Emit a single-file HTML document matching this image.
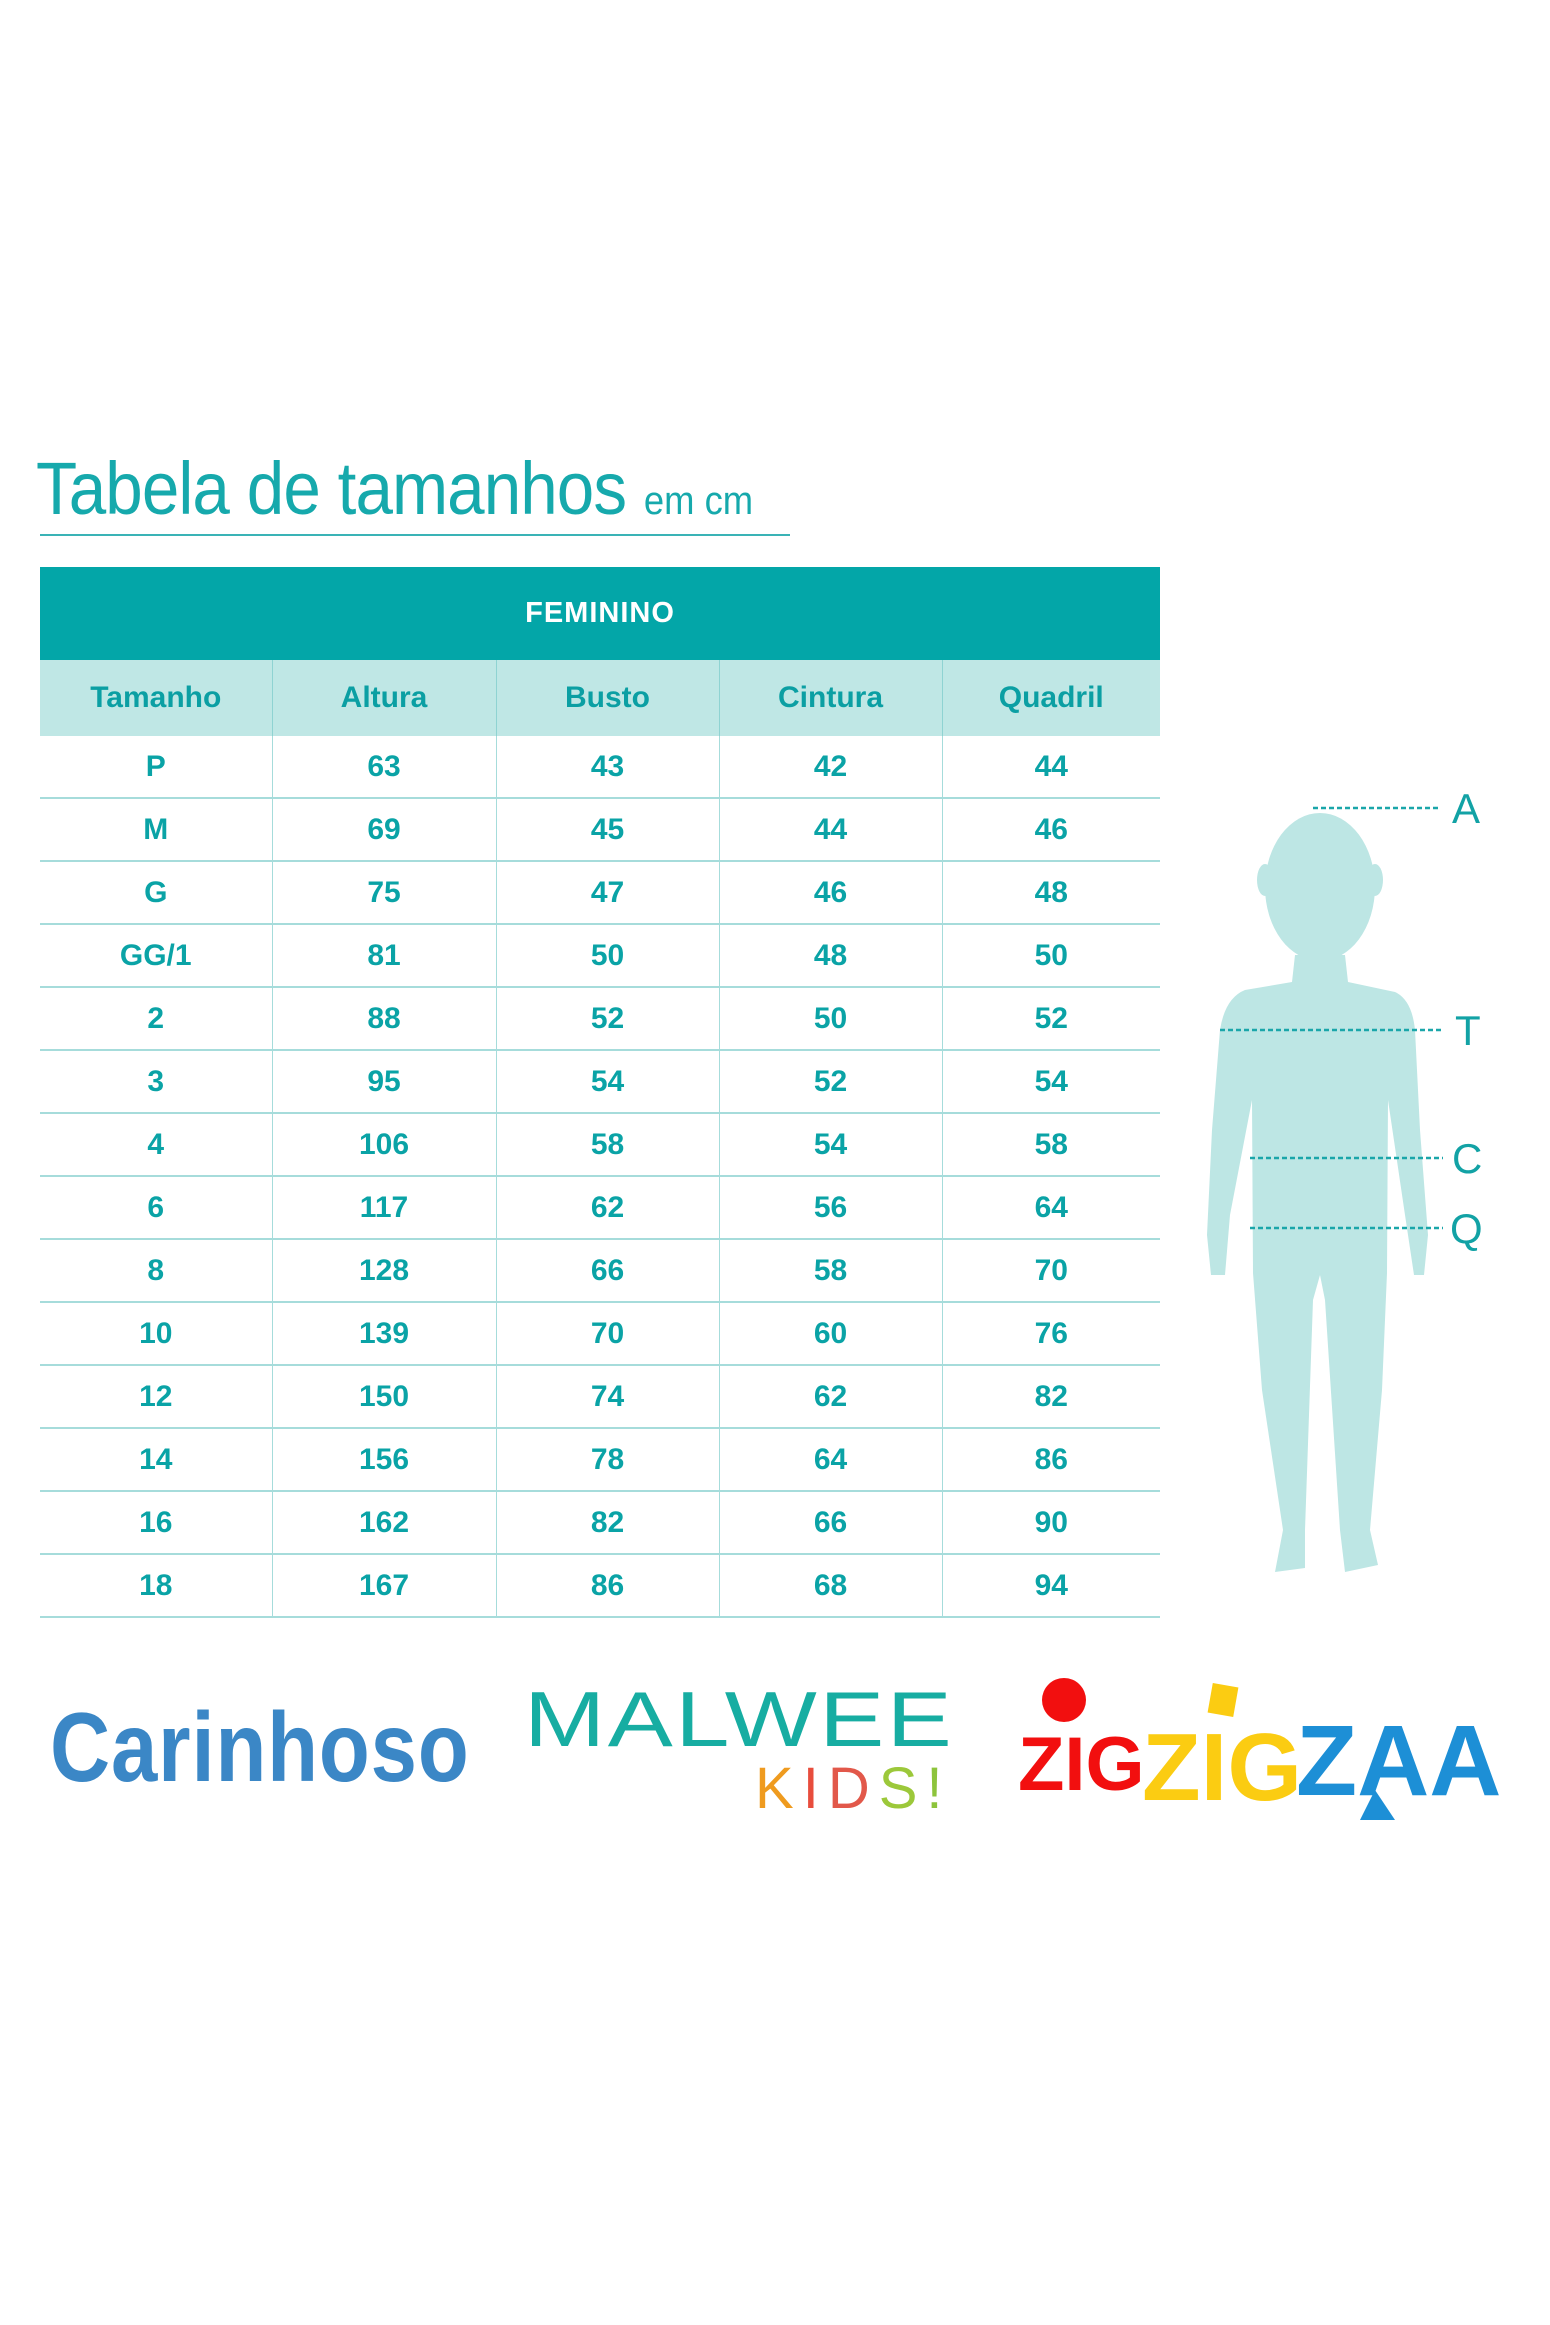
<!DOCTYPE html>
<html><head><meta charset="utf-8">
<style>
html,body{margin:0;padding:0;background:#fff;}
body{width:1550px;height:2325px;position:relative;overflow:hidden;font-family:"Liberation Sans Narrow","Liberation Sans",sans-serif;color:#0aa3a6;}
.title{position:absolute;left:36px;top:452px;font-size:74px;color:#16a9ac;letter-spacing:-1px;line-height:1;transform:scaleX(0.91);transform-origin:left;}
.title small{font-size:40px;letter-spacing:0;}
.uline{position:absolute;left:40px;top:534px;width:750px;height:2px;background:#3ab3b6;}
table{position:absolute;left:40px;top:567px;width:1120px;border-collapse:collapse;table-layout:fixed;}
td,th{text-align:center;font-weight:bold;font-size:30px;padding:0;}
.h1 th{background:#03a6a8;color:#fff;height:93px;font-size:29px;letter-spacing:1px;}
.h2 th{background:#bfe7e5;color:#0b9fa3;height:76px;border-left:1px solid #8fd3d2;}
.h2 th:first-child{border-left:none;}
td{height:61px;border-bottom:2px solid #a6dcdb;border-left:1px solid #a6dcdb;}
td:first-child{border-left:none;}
.logo{position:absolute;font-family:"Liberation Sans",sans-serif;font-weight:bold;line-height:1;}
</style></head><body>
<div class="title">Tabela de tamanhos <small>em cm</small></div>
<div class="uline"></div>
<table>
<colgroup><col style="width:232px"><col style="width:224px"><col style="width:223px"><col style="width:223px"><col style="width:218px"></colgroup>
<tr class="h1"><th colspan="5">FEMININO</th></tr>
<tr class="h2"><th>Tamanho</th><th>Altura</th><th>Busto</th><th>Cintura</th><th>Quadril</th></tr>
<tr><td>P</td><td>63</td><td>43</td><td>42</td><td>44</td></tr>
<tr><td>M</td><td>69</td><td>45</td><td>44</td><td>46</td></tr>
<tr><td>G</td><td>75</td><td>47</td><td>46</td><td>48</td></tr>
<tr><td>GG/1</td><td>81</td><td>50</td><td>48</td><td>50</td></tr>
<tr><td>2</td><td>88</td><td>52</td><td>50</td><td>52</td></tr>
<tr><td>3</td><td>95</td><td>54</td><td>52</td><td>54</td></tr>
<tr><td>4</td><td>106</td><td>58</td><td>54</td><td>58</td></tr>
<tr><td>6</td><td>117</td><td>62</td><td>56</td><td>64</td></tr>
<tr><td>8</td><td>128</td><td>66</td><td>58</td><td>70</td></tr>
<tr><td>10</td><td>139</td><td>70</td><td>60</td><td>76</td></tr>
<tr><td>12</td><td>150</td><td>74</td><td>62</td><td>82</td></tr>
<tr><td>14</td><td>156</td><td>78</td><td>64</td><td>86</td></tr>
<tr><td>16</td><td>162</td><td>82</td><td>66</td><td>90</td></tr>
<tr><td>18</td><td>167</td><td>86</td><td>68</td><td>94</td></tr>
</table>

<svg style="position:absolute;left:0;top:0" width="1550" height="2325">
<g fill="#bde6e4">
<ellipse cx="1320" cy="887" rx="55" ry="74"/>
<ellipse cx="1265" cy="880" rx="8" ry="16"/>
<ellipse cx="1375" cy="880" rx="8" ry="16"/>
<path d="M1295 955 L1345 955 L1348 982 L1395 992 Q1412 1000 1415 1030 L1420 1130 L1428 1235 L1424 1275 L1414 1275 L1405 1215 L1388 1100 L1387 1273 L1382 1390 L1370 1530 L1378 1565 L1345 1572 L1340 1530 L1325 1300 L1320 1275 L1313 1300 L1305 1530 L1305 1568 L1275 1572 L1283 1530 L1262 1390 L1253 1273 L1252 1100 L1230 1215 L1225 1275 L1211 1275 L1207 1235 L1212 1130 L1220 1030 Q1225 998 1245 990 L1292 982 Z"/>
</g>
<g stroke="#1aa6a9" stroke-width="2.5" stroke-dasharray="5,3">
<line x1="1313" y1="808" x2="1440" y2="808"/>
<line x1="1220" y1="1030" x2="1443" y2="1030"/>
<line x1="1250" y1="1158" x2="1443" y2="1158"/>
<line x1="1250" y1="1228" x2="1443" y2="1228"/>
</g>
<g fill="#12a2a5" font-family="Liberation Sans,sans-serif" font-size="42">
<text x="1452" y="823">A</text>
<text x="1455" y="1045">T</text>
<text x="1452" y="1173">C</text>
<text x="1450" y="1243">Q</text>
</g>
</svg>

<div class="logo" style="left:50px;top:1698px;font-size:98px;color:#3b87c6;letter-spacing:1px;transform:scaleX(0.85);transform-origin:left;">Carinhoso</div>
<div class="logo" style="left:524px;top:1680px;font-size:78px;color:#17ada2;font-weight:normal;letter-spacing:2px;transform:scaleX(1.25);transform-origin:left;">MALWEE</div>
<div class="logo" style="left:755px;top:1760px;font-size:58px;font-weight:normal;letter-spacing:9px;"><span style="color:#ef9b1f">K</span><span style="color:#e84d3d">I</span><span style="color:#e2584a">D</span><span style="color:#9cc83a">S</span><span style="color:#8dc43c">!</span></div>
<svg style="position:absolute;left:0;top:0" width="1550" height="2325">
<circle cx="1064" cy="1700" r="22" fill="#f20f0f"/>
<text x="1018" y="1790" font-family="Liberation Sans,sans-serif" font-weight="bold" font-size="76" fill="#f20f0f">ZIG</text>
<rect x="1210" y="1685" width="26" height="30" fill="#fbcc12" transform="rotate(10 1223 1700)"/>
<text x="1142" y="1800" font-family="Liberation Sans,sans-serif" font-weight="bold" font-size="96" fill="#fbcc12">ZIG</text>
<text x="1296" y="1795" font-family="Liberation Sans,sans-serif" font-weight="bold" font-size="100" fill="#1d8fd6">ZAA</text>
<polygon points="1375,1790 1395,1820 1360,1820" fill="#1d8fd6"/>
</svg>
</body></html>
